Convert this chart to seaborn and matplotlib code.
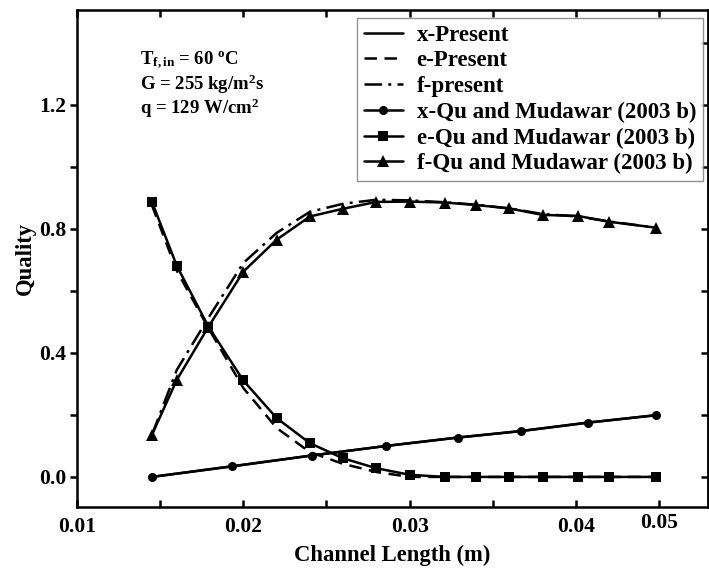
import matplotlib
matplotlib.use('Agg')
import matplotlib.pyplot as plt
import seaborn as sns

sns.set_theme(style='white')
plt.rcParams['font.family'] = ['Liberation Serif', 'DejaVu Serif']
plt.rcParams['font.weight'] = 'bold'
plt.rcParams['axes.labelweight'] = 'bold'
plt.rcParams['text.color'] = 'black'
plt.rcParams['axes.labelcolor'] = 'black'
plt.rcParams['xtick.color'] = 'black'
plt.rcParams['ytick.color'] = 'black'
plt.rcParams['mathtext.fontset'] = 'custom'
plt.rcParams['mathtext.rm'] = 'Liberation Serif:bold'
plt.rcParams['mathtext.it'] = 'Liberation Serif:bold'
plt.rcParams['mathtext.bf'] = 'Liberation Serif:bold'

# ---------------- data ----------------
# experimental (Qu and Mudawar 2003 b) positions for e and f
length_ef = [0.0145, 0.0160, 0.0179, 0.0200, 0.0220, 0.0240, 0.0260, 0.0280,
             0.0300, 0.0321, 0.0340, 0.0360, 0.0380, 0.0401, 0.0420, 0.0448]
e_exp = [0.888, 0.681, 0.485, 0.311, 0.190, 0.109, 0.060, 0.028,
         0.007, 0.0, 0.0, 0.0, 0.0, 0.0, 0.0, 0.0]
f_exp = [0.135, 0.313, 0.484, 0.662, 0.765, 0.840, 0.865, 0.887,
         0.888, 0.885, 0.877, 0.866, 0.845, 0.842, 0.823, 0.804]

length_x = [0.0145, 0.0193, 0.0241, 0.0286, 0.0329, 0.0367, 0.0407, 0.0448]
x_exp = [0.0, 0.034, 0.069, 0.100, 0.127, 0.148, 0.175, 0.199]

# present model
x_present = [0.0, 0.034, 0.069, 0.100, 0.127, 0.148, 0.175, 0.199]
e_present = [0.877, 0.665, 0.480, 0.287, 0.158, 0.080, 0.042, 0.016,
             0.0, 0.0, 0.0, 0.0, 0.0, 0.0, 0.0, 0.0]
f_present = [0.135, 0.345, 0.513, 0.690, 0.787, 0.855, 0.881, 0.894,
             0.892, 0.886, 0.878, 0.866, 0.848, 0.840, 0.824, 0.804]

xtick_pos = [0.01, 0.015, 0.02, 0.025, 0.03, 0.035, 0.04, 0.045]
xtick_labels = ['0.01', '', '0.02', '', '0.03', '', '0.04', '']
extra_label = '0.05'
ytick_pos = [0.0, 0.2, 0.4, 0.6, 0.8, 1.0, 1.2]
ytick_labels = ['0.0', '', '0.4', '', '0.8', '', '1.2']
yright_pos = [0.0, 0.2, 0.4, 0.6, 0.8, 1.0, 1.2, 1.4]
conditions = [r'T$_{\mathrm{f,in}}$ = 60 $^{\mathrm{o}}$C',
              r'G = 255 kg/m$^{\mathrm{2}}$s',
              r'q = 129 W/cm$^{\mathrm{2}}$']

# ---------------- figure ----------------
fig = plt.figure(figsize=(7.09, 5.68), dpi=100)
ax = fig.add_axes([0.1086, 0.1074, 0.890, 0.875])

LW = 1.8
sns.lineplot(x=length_x, y=x_present, ax=ax, color='black', lw=LW,
             label='x-Present', sort=False)
sns.lineplot(x=length_ef, y=e_present, ax=ax, color='black', lw=LW,
             dashes=(5, 3), label='e-Present', sort=False)
sns.lineplot(x=length_ef, y=f_present, ax=ax, color='black', lw=LW,
             dashes=(7, 2.5, 1.2, 2.5), label='f-present', sort=False)
sns.lineplot(x=length_x, y=x_exp, ax=ax, color='black', lw=LW, marker='o',
             markersize=6.5, markeredgewidth=0, label='x-Qu and Mudawar (2003 b)', sort=False)
sns.lineplot(x=length_ef, y=e_exp, ax=ax, color='black', lw=LW, marker='s',
             markersize=6.5, markeredgewidth=0, label='e-Qu and Mudawar (2003 b)', sort=False)
sns.lineplot(x=length_ef, y=f_exp, ax=ax, color='black', lw=LW, marker='^',
             markersize=9, markeredgewidth=0, label='f-Qu and Mudawar (2003 b)', sort=False)

ax.set_xlim(0.01, 0.04794)
ax.set_ylim(-0.097, 1.506)

for s in ax.spines.values():
    s.set_visible(True)
    s.set_color('black')
    s.set_linewidth(1.8)

ax.set_xticks(xtick_pos)
ax.set_xticklabels(xtick_labels)
ax.set_yticks(ytick_pos)
ax.set_yticklabels(ytick_labels)
ax.tick_params(axis='x', direction='in', top=True, bottom=True, length=5,
               width=1.8, labelsize=15.5, pad=7, colors='black')
ax.tick_params(axis='y', direction='out', left=True, right=False, length=5,
               width=1.8, labelsize=15.5, pad=3, colors='black')
sec = ax.secondary_yaxis('right')
sec.set_yticks(yright_pos)
sec.tick_params(direction='in', length=5, width=1.8, labelright=False, colors='black')
sec.spines['right'].set_linewidth(1.8)

ax.text(0.045, -0.012, extra_label, transform=ax.get_xaxis_transform(),
        ha='center', va='top', fontsize=15.5, fontweight='bold', color='black')

ax.set_xlabel('Channel Length (m)', fontsize=16.3, fontweight='bold', labelpad=6)
ax.set_ylabel('Quality', fontsize=16.3, fontweight='bold', labelpad=2)

fig.text(140 / 709, 1 - 50 / 568, '\n'.join(conditions), fontsize=13.5,
         fontweight='bold', va='top', ha='left', linespacing=1.05, color='black')

leg = ax.legend(loc='upper right', bbox_to_anchor=(0.992, 0.984), frameon=True,
                fancybox=False, edgecolor='#777777', fontsize=16.5,
                handlelength=1.7, labelspacing=0.2, borderaxespad=0,
                borderpad=0.3, handletextpad=0.6)
leg.get_frame().set_linewidth(1.0)
for t in leg.get_texts():
    t.set_fontweight('bold')
    t.set_color('black')

fig.savefig('out.png', dpi=100)
